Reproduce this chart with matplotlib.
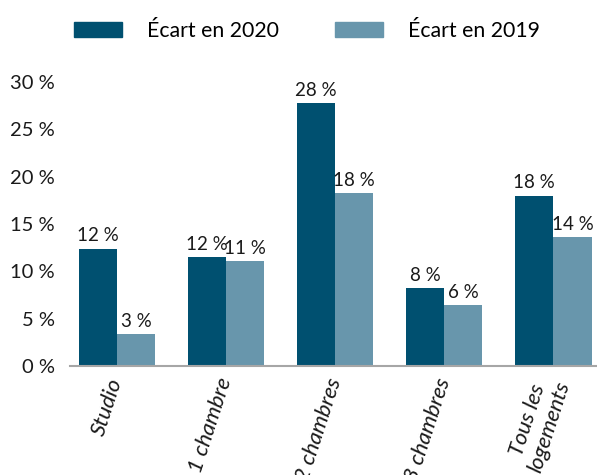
import matplotlib
matplotlib.use("Agg")
import matplotlib.pyplot as plt
import matplotlib.transforms as mtransforms
import numpy as np
from matplotlib.patches import Patch

categories = ["Studio", "1 chambre", "2 chambres", "3 chambres", "Tous les\nlogements"]
ecart_2020 = [12.4, 11.5, 27.8, 8.2, 18.0]
ecart_2019 = [3.4, 11.1, 18.3, 6.4, 13.6]
labels_2020 = ["12 %", "12 %", "28 %", "8 %", "18 %"]
labels_2019 = ["3 %", "11 %", "18 %", "6 %", "14 %"]
yticks = [0, 5, 10, 15, 20, 25, 30]
ytick_labels = ["0 %", "5 %", "10 %", "15 %", "20 %", "25 %", "30 %"]

c2020 = "#005070"
c2019 = "#6896AC"

plt.rcParams['font.family'] = ['Lato', 'DejaVu Sans']

fig = plt.figure(figsize=(5.97, 4.75), dpi=100)
ax = fig.add_axes([70/597, 1-366/475, 1-70/597, (366-82)/475])

x = np.arange(len(categories))
w = 0.35
b1 = ax.bar(x - w/2, ecart_2020, width=w, color=c2020)
b2 = ax.bar(x + w/2, ecart_2019, width=w, color=c2019)

for bars, labs in ((b1, labels_2020), (b2, labels_2019)):
    for r, t in zip(bars, labs):
        ax.annotate(t, (r.get_x() + r.get_width()/2, r.get_height()),
                    xytext=(0, 3), textcoords="offset points",
                    ha="center", va="bottom", fontsize=13.5, color="#1a1a1a",
                    annotation_clip=False)

ax.set_xlim(-0.43, 4.40)
ax.set_ylim(0, 30)
ax.set_yticks(yticks)
ax.set_yticklabels(ytick_labels, fontsize=14.5, color="#1a1a1a")
ax.set_xticks(x)
ax.set_xticklabels(categories, fontsize=16, color="#1a1a1a", rotation=72,
                   ha="right", va="center", rotation_mode="anchor", style="italic",
                   multialignment="center", linespacing=1.15)
for i, lab in enumerate(ax.get_xticklabels()):
    dx = 28 if "\n" in lab.get_text() else 36
    lab.set_transform(lab.get_transform() +
                      mtransforms.ScaledTranslation(dx/100, 0, fig.dpi_scale_trans))
ax.tick_params(axis="both", length=0)
ax.tick_params(axis="x", pad=9)
ax.tick_params(axis="y", pad=11)
for s in ("top", "right", "left"):
    ax.spines[s].set_visible(False)
ax.spines["bottom"].set_color("#A6A6A6")
ax.spines["bottom"].set_linewidth(1.5)

handles = [Patch(color=c2020, label="Écart en 2020"), Patch(color=c2019, label="Écart en 2019")]
fig.legend(handles=handles, loc="center", bbox_to_anchor=(307/597, 1-31/475), ncol=2,
           frameon=False, fontsize=15.3, handlelength=2.26, handleheight=0.67,
           handletextpad=1.15, columnspacing=2.65)

fig.savefig("out.png", dpi=100)
